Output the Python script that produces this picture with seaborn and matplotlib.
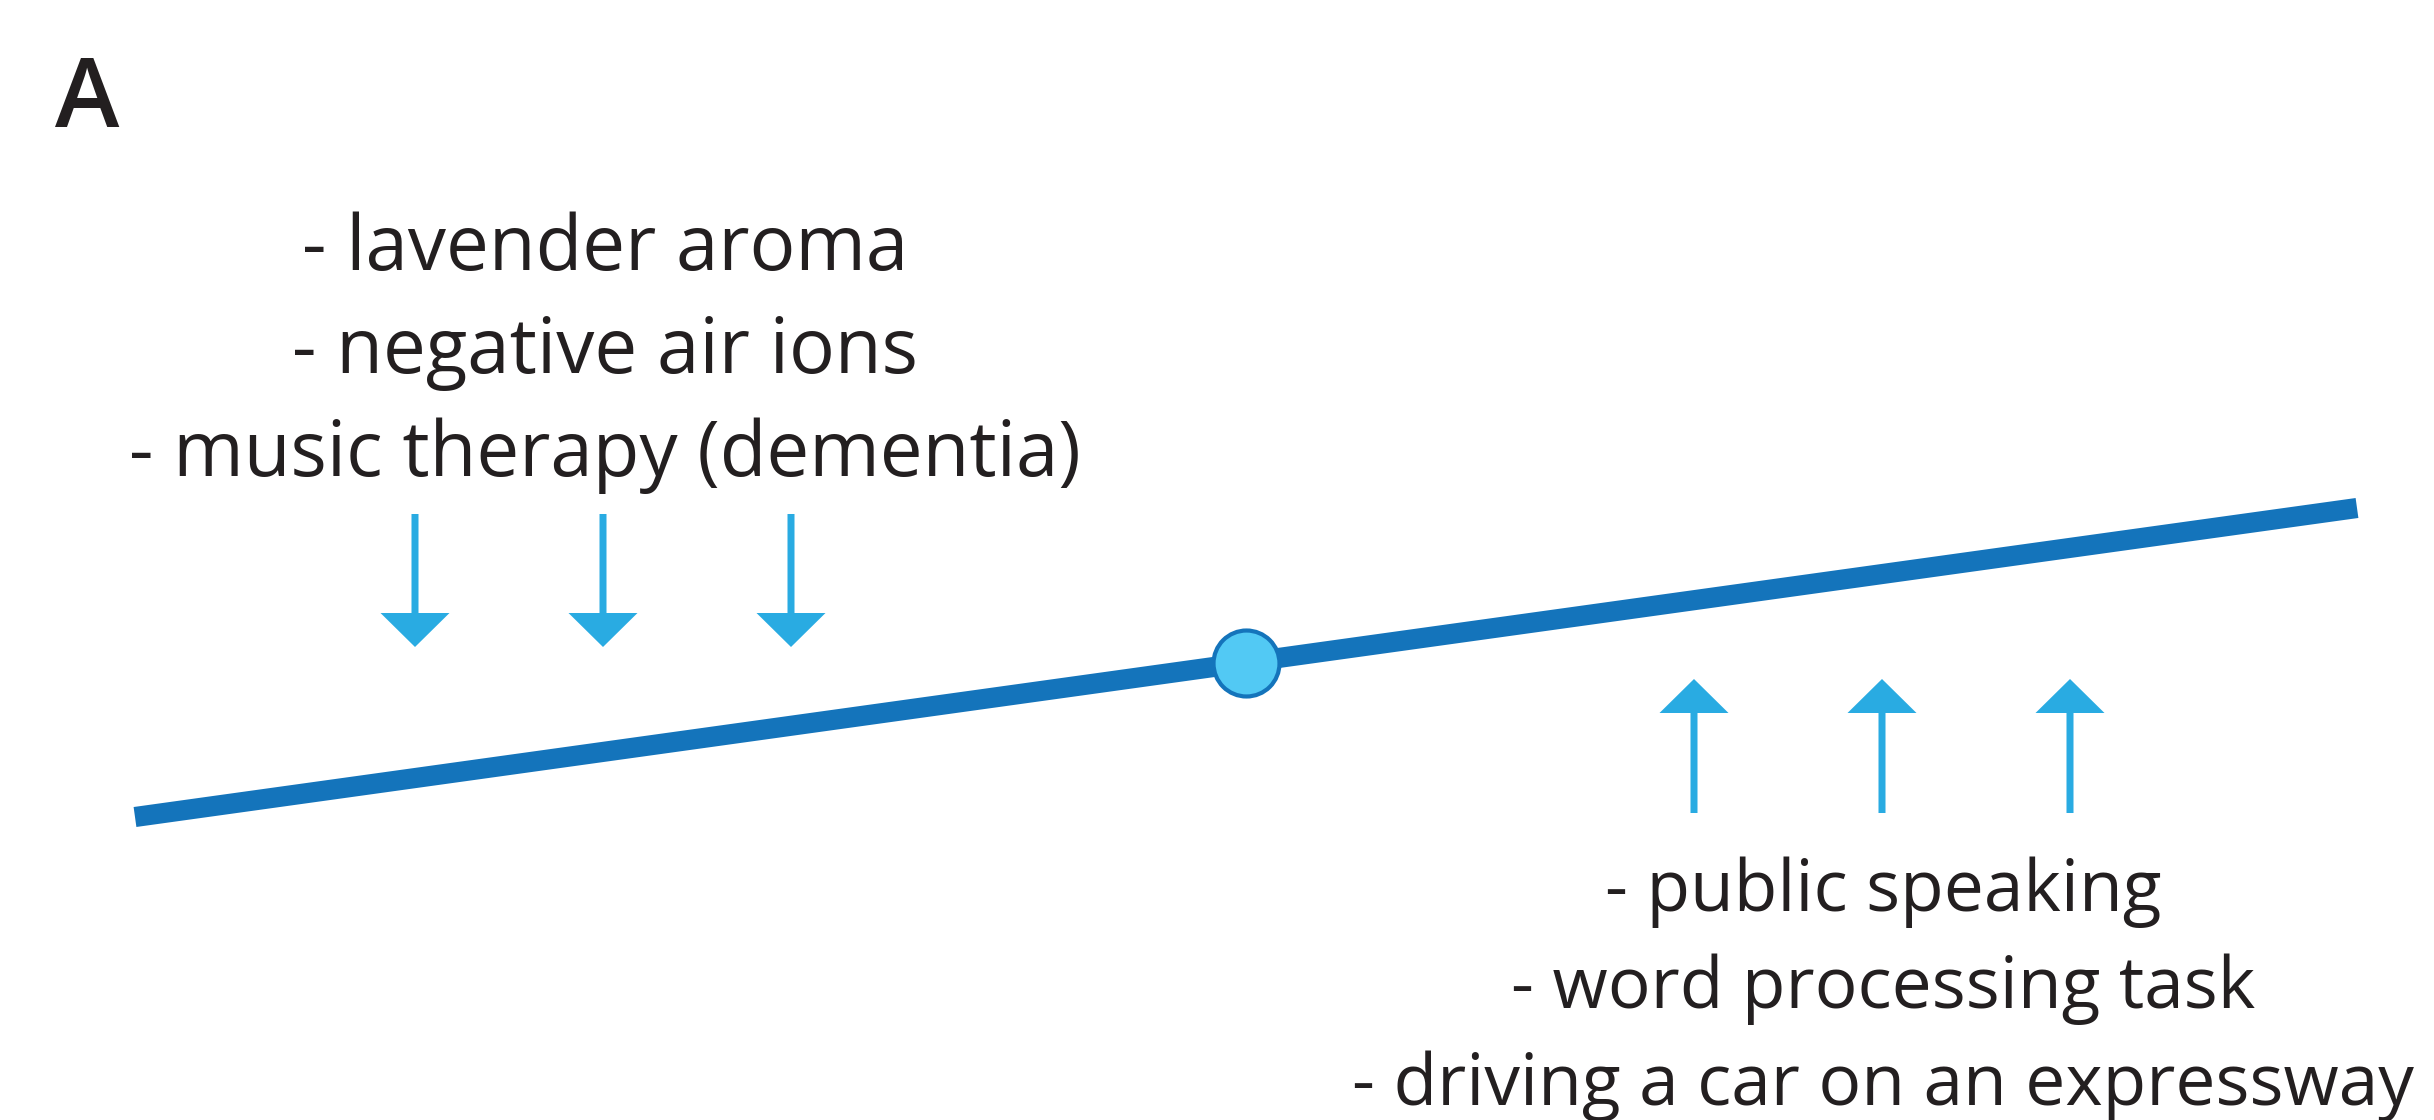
import matplotlib
matplotlib.use("Agg")
import matplotlib.pyplot as plt
import seaborn as sns
import pandas as pd

sns.set_theme(style="white")
plt.rcParams['font.family'] = ['Open Sans', 'DejaVu Sans']

# ---- data (pixel-space diagram coordinates) ----
line_x = [135, 2357]
line_y = [817, 508]
point_x = [1246]
point_y = [662.5]
down_arrow_x = [415, 603, 791]
down_arrow_start = 514
down_arrow_tip = 647
up_arrow_x = [1694, 1882, 2070]
up_arrow_start = 813
up_arrow_tip = 679
upper_labels = ["- lavender aroma", "- negative air ions", "- music therapy (dementia)"]
upper_baselines = [270, 373, 476]
upper_center = 605
upper_width = 952
lower_labels = ["- public speaking", "- word processing task", "- driving a car on an expressway"]
lower_baselines = [911, 1008, 1105]
lower_center = 1883
lower_width = 1062
panel_label = "A"

# ---- styles ----
LINE_C = "#1474BB"
ARROW_C = "#29ABE2"
FILL_C = "#52C9F4"
TEXT_C = "#231F20"

W, H = 2434, 1120
fig = plt.figure(figsize=(W / 100, H / 100), dpi=100)
ax = fig.add_axes([0, 0, 1, 1])
ax.set_xlim(0, W)
ax.set_ylim(H, 0)
ax.axis("off")

df_line = pd.DataFrame({"x": line_x, "y": line_y})
sns.lineplot(data=df_line, x="x", y="y", ax=ax, color=LINE_C, linewidth=14.5,
             solid_capstyle="butt", sort=False)

df_pt = pd.DataFrame({"x": point_x, "y": point_y})
sns.scatterplot(data=df_pt, x="x", y="y", ax=ax, s=47.5 ** 2, color=FILL_C,
                edgecolor=LINE_C, linewidth=3.0, zorder=5)

for x in down_arrow_x:
    ax.arrow(x, down_arrow_start, 0, down_arrow_tip - down_arrow_start,
             width=7, head_width=69, head_length=34, length_includes_head=True,
             color=ARROW_C, linewidth=0)
for x in up_arrow_x:
    ax.arrow(x, up_arrow_start, 0, up_arrow_tip - up_arrow_start,
             width=7, head_width=69, head_length=34, length_includes_head=True,
             color=ARROW_C, linewidth=0)

renderer = fig.canvas.get_renderer()


def fit_size(text, target):
    probe = ax.text(0, 0, text, fontsize=50)
    wpx = probe.get_window_extent(renderer).width
    probe.remove()
    return 50 * target / wpx


fs_up = fit_size(max(upper_labels, key=len), upper_width)
fs_lo = fit_size(max(lower_labels, key=len), lower_width)

for lab, yb in zip(upper_labels, upper_baselines):
    ax.text(upper_center, yb, lab, ha="center", va="baseline", fontsize=fs_up, color=TEXT_C)
for lab, yb in zip(lower_labels, lower_baselines):
    ax.text(lower_center, yb, lab, ha="center", va="baseline", fontsize=fs_lo, color=TEXT_C)

ax.text(55, 127, panel_label, ha="left", va="baseline", fontsize=70,
        fontweight="semibold", color=TEXT_C)

fig.savefig("out.png", dpi=100, facecolor="white")
